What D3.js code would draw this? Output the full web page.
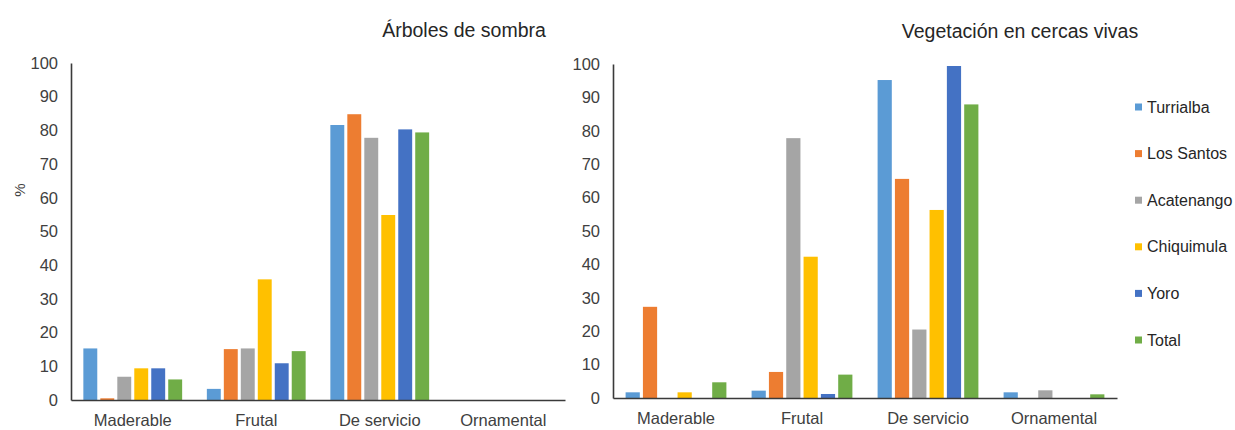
<!DOCTYPE html>
<html>
<head>
<meta charset="utf-8">
<script src="https://cdn.jsdelivr.net/npm/d3@7"></script>
<style>
  body { margin: 0; background: #fff; overflow: hidden; }
  svg text { font-family: "Liberation Sans", Arial, sans-serif; }
</style>
</head>
<body>
<svg id="chart" width="1235" height="430"></svg>
<script>
// categories and series
const categories = ['Maderable', 'Frutal', 'De servicio', 'Ornamental'];
const seriesNames = ['Turrialba', 'Los Santos', 'Acatenango', 'Chiquimula', 'Yoro', 'Total'];
const seriesColors = ['#5b9bd5', '#ed7d31', '#a5a5a5', '#ffc000', '#4472c4', '#70ad47'];
const yTicks = [0, 10, 20, 30, 40, 50, 60, 70, 80, 90, 100];

// Árboles de sombra, one row per series
const sombraTurrialba = [15.3, 3.3, 81.6, 0];
const sombraLosSantos = [0.5, 15.1, 84.8, 0];
const sombraAcatenango = [6.9, 15.3, 77.8, 0];
const sombraChiquimula = [9.4, 35.8, 54.9, 0];
const sombraYoro = [9.4, 10.9, 80.3, 0];
const sombraTotal = [6.1, 14.5, 79.4, 0];

// Vegetación en cercas vivas
const cercasTurrialba = [1.7, 2.2, 95.2, 1.7];
const cercasLosSantos = [27.3, 7.8, 65.6, 0];
const cercasAcatenango = [0, 77.8, 20.5, 2.3];
const cercasChiquimula = [1.7, 42.3, 56.3, 0];
const cercasYoro = [0, 1.2, 99.4, 0];
const cercasTotal = [4.7, 7.0, 87.9, 1.1];

const sombra = [sombraTurrialba, sombraLosSantos, sombraAcatenango, sombraChiquimula, sombraYoro, sombraTotal];
const cercas = [cercasTurrialba, cercasLosSantos, cercasAcatenango, cercasChiquimula, cercasYoro, cercasTotal];

const svg = d3.select('#chart');
const axisColor = '#3a3a3a';
const textColor = '#404040';

function drawPanel(rows, box, title, titleX, titleY) {
  const x0 = d3.scaleBand().domain(categories).range([box.left, box.right])
    .paddingInner(0.2).paddingOuter(0.1);
  const x1 = d3.scaleBand().domain(seriesNames).range([0, x0.bandwidth()]).paddingInner(0.18);
  const y = d3.scaleLinear().domain([0, 100]).range([box.bottom, box.top]);

  const g = svg.append('g');

  // bars
  seriesNames.forEach((name, si) => {
    g.append('g')
      .selectAll('rect')
      .data(rows[si].map((v, ci) => ({ cat: categories[ci], v })))
      .enter()
      .append('rect')
      .attr('x', d => x0(d.cat) + x1(name))
      .attr('width', x1.bandwidth())
      .attr('y', d => y(d.v))
      .attr('height', d => box.bottom - y(d.v))
      .attr('fill', seriesColors[si]);
  });

  // y axis
  const yAxis = g.append('g')
    .attr('transform', `translate(${box.left},0)`)
    .call(d3.axisLeft(y).tickValues(yTicks).tickSize(0).tickPadding(13));
  yAxis.select('.domain').attr('stroke', axisColor).attr('stroke-width', 1.6);
  yAxis.selectAll('text').attr('font-size', 16.5).attr('fill', textColor)
    .attr('font-family', '"Liberation Sans", Arial, sans-serif');

  // x axis
  const xAxis = g.append('g')
    .attr('transform', `translate(0,${box.bottom})`)
    .call(d3.axisBottom(x0).tickSize(0).tickPadding(14));
  xAxis.select('.domain').attr('stroke', axisColor).attr('stroke-width', 1.6);
  xAxis.selectAll('text').attr('font-size', 16.5).attr('fill', textColor)
    .attr('font-family', '"Liberation Sans", Arial, sans-serif');

  g.append('text')
    .attr('x', titleX)
    .attr('y', titleY)
    .attr('text-anchor', 'middle')
    .attr('font-size', 19.5)
    .attr('fill', '#262626')
    .text(title);
}

drawPanel(sombra, { left: 71, right: 565, top: 63, bottom: 400 }, 'Árboles de sombra', 464, 37);
drawPanel(cercas, { left: 613, right: 1117, top: 64, bottom: 398 }, 'Vegetación en cercas vivas', 1020, 38);

// y label
svg.append('text')
  .attr('transform', 'translate(25,190) rotate(-90)')
  .attr('text-anchor', 'middle')
  .attr('font-size', 15)
  .attr('fill', textColor)
  .text('%');

// legend (kept just inside the right edge)
const legend = svg.append('g').attr('transform', 'translate(1135,0)');
const ly = d3.scalePoint().domain(seriesNames).range([107, 340]);
seriesNames.forEach((name, i) => {
  legend.append('rect')
    .attr('x', 0)
    .attr('y', ly(name) - 3.5)
    .attr('width', 7)
    .attr('height', 7)
    .attr('fill', seriesColors[i]);
  legend.append('text')
    .attr('x', 12)
    .attr('y', ly(name))
    .attr('dy', '0.35em')
    .attr('font-size', 16)
    .attr('fill', '#262626')
    .text(name);
});
</script>
</body>
</html>
